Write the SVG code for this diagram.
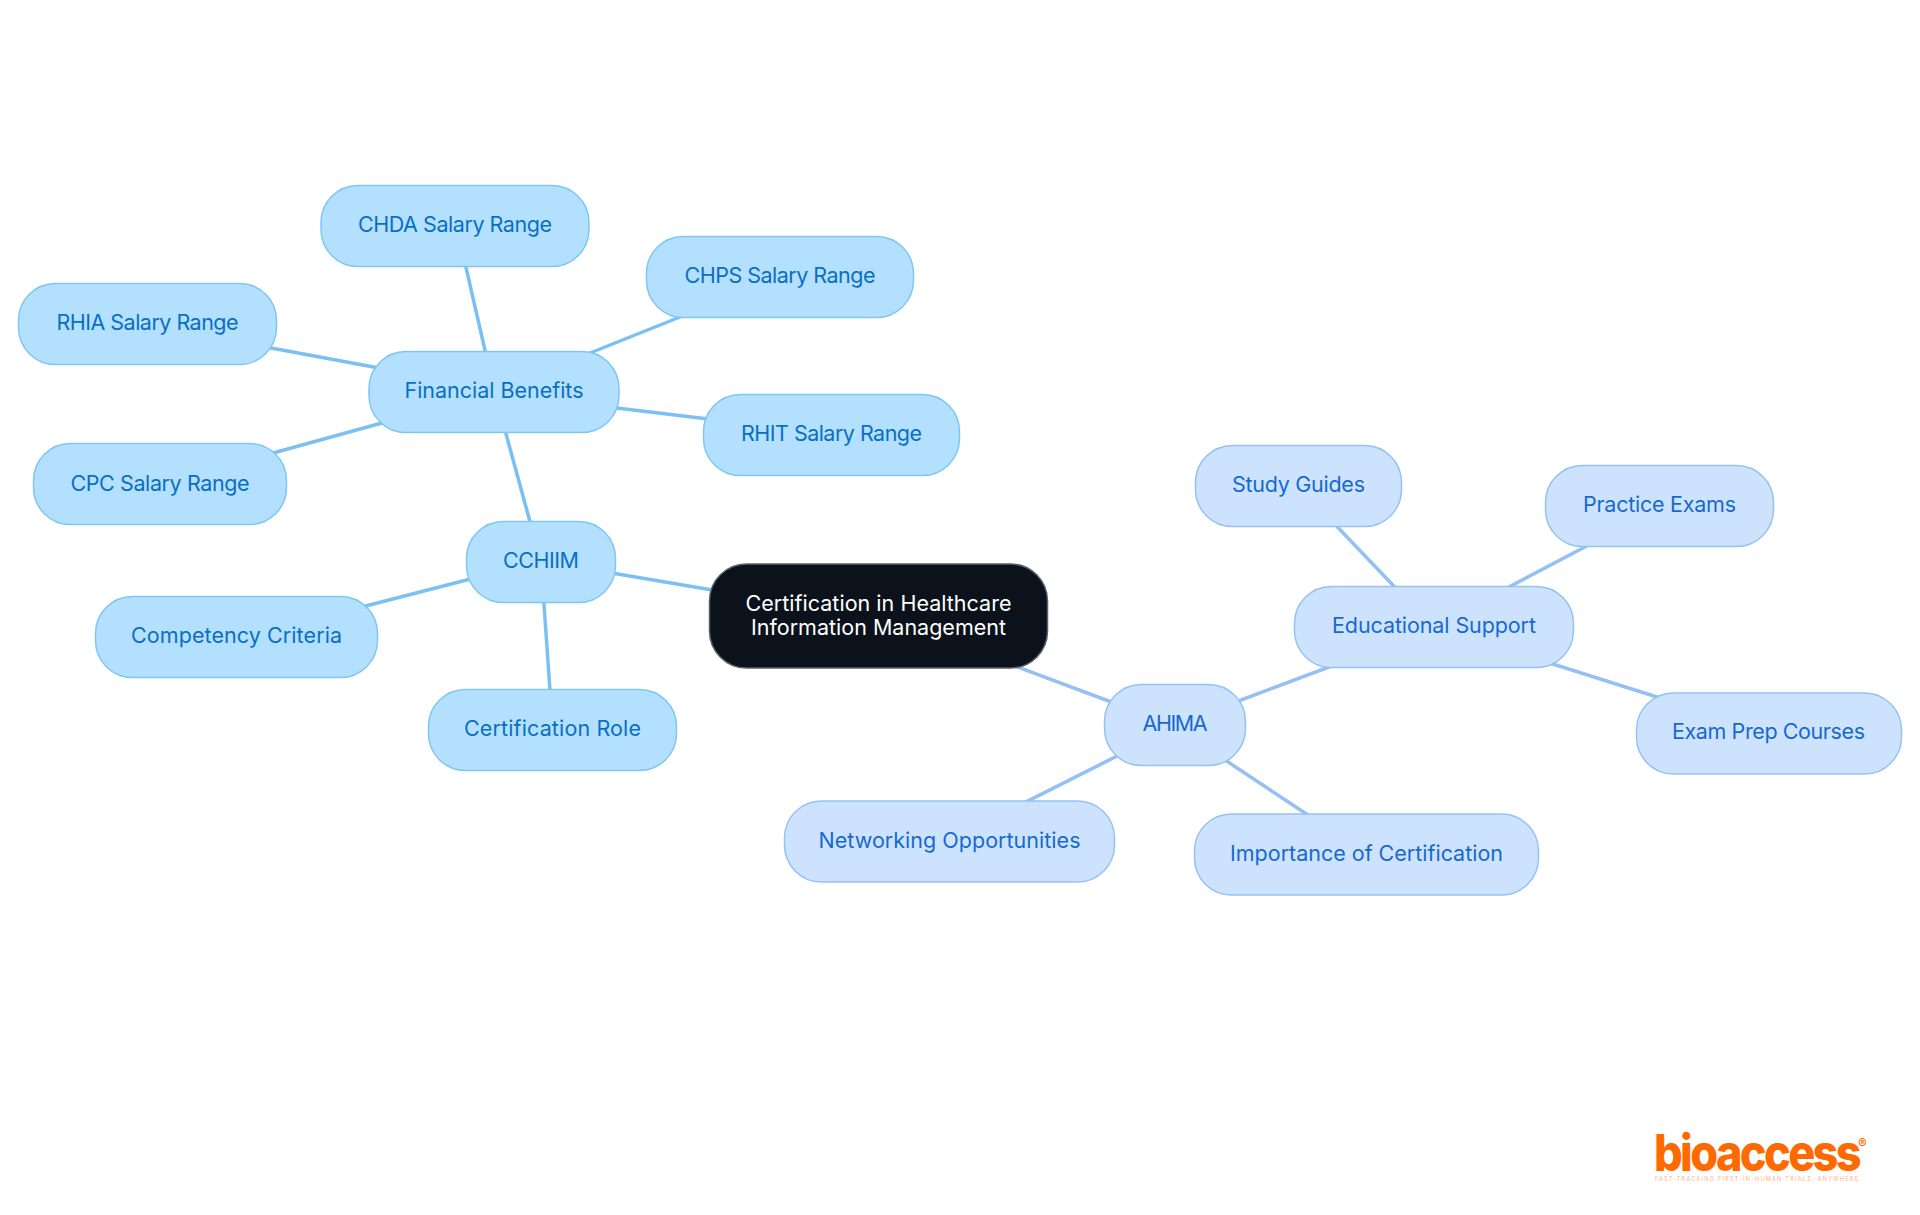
<svg xmlns="http://www.w3.org/2000/svg" width="1920" height="1215" viewBox="0 0 1920 1215">
<style>
.n rect{stroke-width:1.5}
.n text{font-family:"Inter","Noto Sans",sans-serif;font-size:21.5px;text-anchor:middle}
.a rect{fill:#b3e0ff;stroke:#80c6f2}.a text{fill:#0a6fc2}
.b rect{fill:#cde3fd;stroke:#94c2f4}.b text{fill:#1769d0}
.c rect{fill:#0b121b;stroke:#5c6066}.c text{fill:#fff}
#connectors line{stroke-width:3.5}
.la{stroke:#7cc0f2}.lb{stroke:#94c0f2}
</style>
<rect width="1920" height="1215" fill="#fff"/>
<g id="connectors">
<line class="la" x1="730" y1="593" x2="600" y2="571"/>
<line class="la" x1="535" y1="540" x2="500" y2="412"/>
<line class="la" x1="490" y1="574" x2="350" y2="610"/>
<line class="la" x1="543" y1="590" x2="551" y2="705"/>
<line class="la" x1="490" y1="372" x2="462" y2="250"/>
<line class="la" x1="560" y1="365" x2="700" y2="309"/>
<line class="la" x1="600" y1="406" x2="725" y2="421"/>
<line class="la" x1="395" y1="371" x2="255" y2="345"/>
<line class="la" x1="400" y1="418" x2="255" y2="458"/>
<line class="lb" x1="1000" y1="660.500" x2="1130" y2="709"/>
<line class="lb" x1="1220" y1="708" x2="1345" y2="661"/>
<line class="lb" x1="1135" y1="747" x2="1010" y2="810"/>
<line class="lb" x1="1210" y1="750" x2="1320" y2="823"/>
<line class="lb" x1="1410" y1="603" x2="1325" y2="514"/>
<line class="lb" x1="1490" y1="597" x2="1600" y2="539"/>
<line class="lb" x1="1521" y1="654" x2="1676" y2="703"/>
</g>
<g id="root" class="n c"><rect x="709.500" y="564" width="338" height="104" rx="37"/><text x="878.500" y="611" textLength="266">Certification in Healthcare</text><text x="878.500" y="635" textLength="255">Information Management</text></g>
<g id="cchiim" class="n a"><rect x="466.500" y="521.500" width="149" height="81" rx="37"/><text x="541" y="568" textLength="76">CCHIIM</text></g>
<g id="financial" class="n a"><rect x="369" y="351.500" width="250" height="81" rx="37"/><text x="494" y="398" textLength="179">Financial Benefits</text></g>
<g id="chda" class="n a"><rect x="321" y="185.500" width="268" height="81" rx="37"/><text x="455" y="232" textLength="194">CHDA Salary Range</text></g>
<g id="chps" class="n a"><rect x="646.500" y="236.500" width="267" height="81" rx="37"/><text x="780" y="283" textLength="191">CHPS Salary Range</text></g>
<g id="rhia" class="n a"><rect x="18.500" y="283.500" width="258" height="81" rx="37"/><text x="147.500" y="330" textLength="182">RHIA Salary Range</text></g>
<g id="rhit" class="n a"><rect x="703.500" y="394.500" width="256" height="81" rx="37"/><text x="831.500" y="441" textLength="181">RHIT Salary Range</text></g>
<g id="cpc" class="n a"><rect x="33.500" y="443.500" width="253" height="81" rx="37"/><text x="160" y="491" textLength="179">CPC Salary Range</text></g>
<g id="competency" class="n a"><rect x="95.500" y="596.500" width="282" height="81" rx="37"/><text x="236.500" y="643" textLength="211">Competency Criteria</text></g>
<g id="role" class="n a"><rect x="428.500" y="689.500" width="248" height="81" rx="37"/><text x="552.500" y="736" textLength="177">Certification Role</text></g>
<g id="ahima" class="n b"><rect x="1104.500" y="684.500" width="141" height="81" rx="37"/><text x="1175" y="731" textLength="65">AHIMA</text></g>
<g id="educational" class="n b"><rect x="1294.500" y="586.500" width="279" height="81" rx="37"/><text x="1434" y="633" textLength="204">Educational Support</text></g>
<g id="study" class="n b"><rect x="1195.500" y="445.500" width="206" height="81" rx="37"/><text x="1298.500" y="492" textLength="133">Study Guides</text></g>
<g id="practice" class="n b"><rect x="1545.500" y="465.500" width="228" height="81" rx="37"/><text x="1659.500" y="512" textLength="153">Practice Exams</text></g>
<g id="exam" class="n b"><rect x="1636.500" y="693" width="265" height="81" rx="37"/><text x="1768.500" y="739" textLength="193">Exam Prep Courses</text></g>
<g id="importance" class="n b"><rect x="1194.500" y="814" width="344" height="81" rx="37"/><text x="1366.500" y="861" textLength="273">Importance of Certification</text></g>
<g id="networking" class="n b"><rect x="784.500" y="801" width="330" height="81" rx="37"/><text x="949.500" y="848" textLength="262">Networking Opportunities</text></g>
<g id="logo" font-family="'Inter',sans-serif">
<text x="1654" y="1171" font-size="51" font-weight="800" letter-spacing="-3" textLength="205" lengthAdjust="spacingAndGlyphs" fill="#ff6a00">bioaccess</text>
<text x="1858" y="1148" font-size="13" font-weight="700" fill="#ff6a00">®</text>
<text x="1655" y="1181" font-size="5.500" textLength="203" fill="#ffb27f">FAST-TRACKING FIRST-IN-HUMAN TRIALS, ANYWHERE</text>
</g>
</svg>
